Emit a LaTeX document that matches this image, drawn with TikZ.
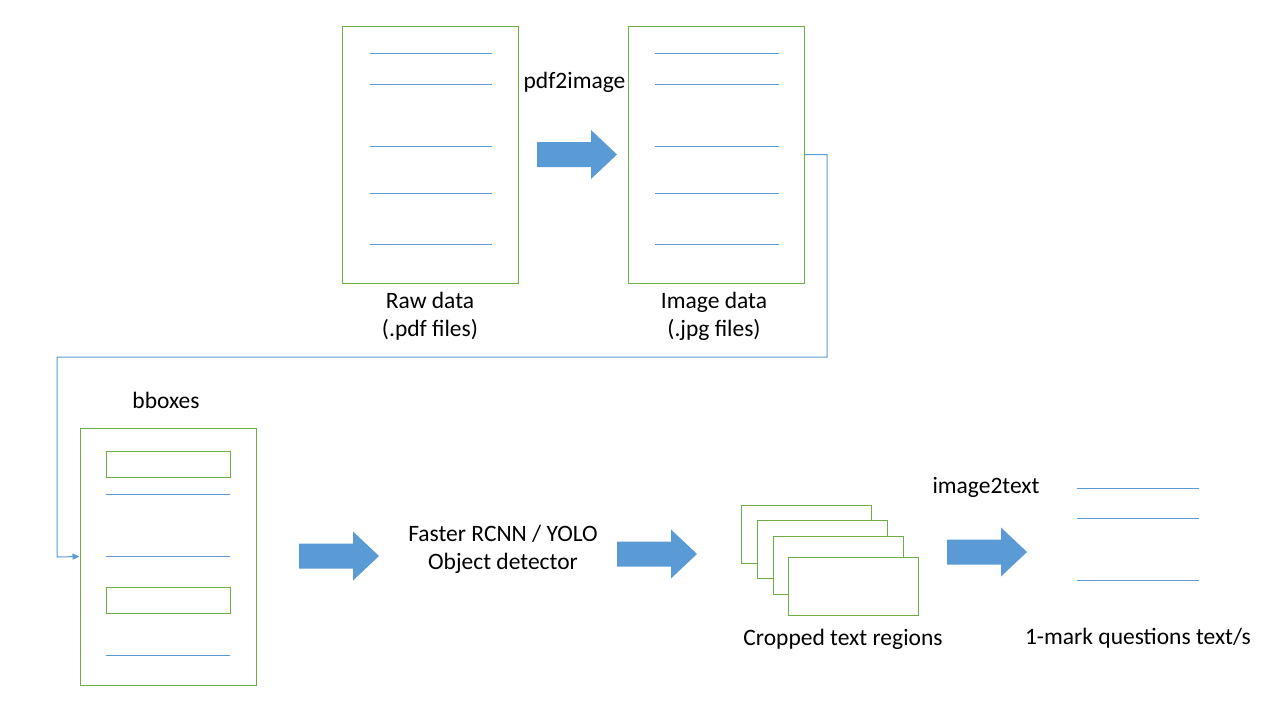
\documentclass[tikz,border=0pt]{standalone}
\usepackage{fontspec}
\setmainfont{Carlito}
\usetikzlibrary{arrows.meta}
\definecolor{lineblue}{HTML}{5B9BD5}
\definecolor{arrowblue}{HTML}{5B9BD5}
\definecolor{pagegreen}{HTML}{70AD47}
\tikzset{
  page/.style={draw=pagegreen, line width=1pt, inner sep=0pt, minimum width=176pt, minimum height=257pt},
  crop/.style={draw=pagegreen, line width=1pt, fill=white, inner sep=0pt, minimum width=130pt, minimum height=58pt},
  tline/.style={draw=lineblue, line width=0.9pt},
  conn/.style={draw=lineblue, line width=1pt, -{Triangle[length=7pt,width=6pt]}},
  lbl/.style={inner sep=0pt, anchor=base, font=\fontsize{23.5}{28}\selectfont},
  bigarrow/.pic={\fill[arrowblue] (0,-12.5) -- (54,-12.5) -- (54,-24.5) -- (80,0) -- (54,24.5) -- (54,12.5) -- (0,12.5) -- cycle;}
}
\begin{document}
\begin{tikzpicture}[x=1pt,y=-1pt]
\useasboundingbox (0,0) rectangle (1280,720);
\fill[white] (0,0) rectangle (1280,720);

% Raw data page
\node[page] (raw) at (430.5,154.5) {};
\foreach \y in {53,84,146,193,244} \draw[tline] (370,\y) -- (492,\y);
\node[lbl] (rawlbl1) at (430,308) {Raw data};
\node[lbl] (rawlbl2) at (430,336) {(.pdf files)};

% arrow 1
\pic (a1) at (537,154.5) {bigarrow};
\node[lbl] (pdf2img) at (574.5,88) {pdf2image};

% Image data page
\node[page] (img) at (716.5,154.5) {};
\foreach \y in {53,84,146,193,244} \draw[tline] (655,\y) -- (779,\y);
\node[lbl] (imglbl1) at (714,308) {Image data};
\node[lbl] (imglbl2) at (714,336) {(.jpg files)};

% bboxes page
\node[page] (bb) at (168,556.5) {};
\node[lbl] (bblbl) at (166,408) {bboxes};
\node[draw=pagegreen, line width=1pt, inner sep=0pt, minimum width=124pt, minimum height=26pt] (bb1) at (168,464) {};
\node[draw=pagegreen, line width=1pt, inner sep=0pt, minimum width=124pt, minimum height=26pt] (bb2) at (168,600) {};
\foreach \y in {494,556,655} \draw[tline] (106,\y) -- (230,\y);

% connector
\draw[conn] (img.east) -| (827,357) -| (57,557) -- (bb.west);

% arrow 2 and detector
\pic (a2) at (299,556) {bigarrow};
\node[lbl] (det1) at (503,541) {Faster RCNN / YOLO};
\node[lbl] (det2) at (503,569) {Object detector};

% arrow 3
\pic (a3) at (617,554) {bigarrow};

% cropped regions
\node[crop] (c1) at (806.5,534.5) {};
\node[crop] (c2) at (822.5,549.5) {};
\node[crop] (c3) at (838.5,565.5) {};
\node[crop] (c4) at (853.5,586.5) {};
\node[lbl] (croplbl) at (843,645) {Cropped text regions};

% arrow 4
\pic (a4) at (947,552) {bigarrow};
\node[lbl] (i2t) at (986,493) {image2text};

% output text
\foreach \y in {488,518,580} \draw[tline] (1077,\y) -- (1199,\y);
\node[lbl] (outlbl) at (1138,644) {1-mark questions text/s};
\end{tikzpicture}
\end{document}
